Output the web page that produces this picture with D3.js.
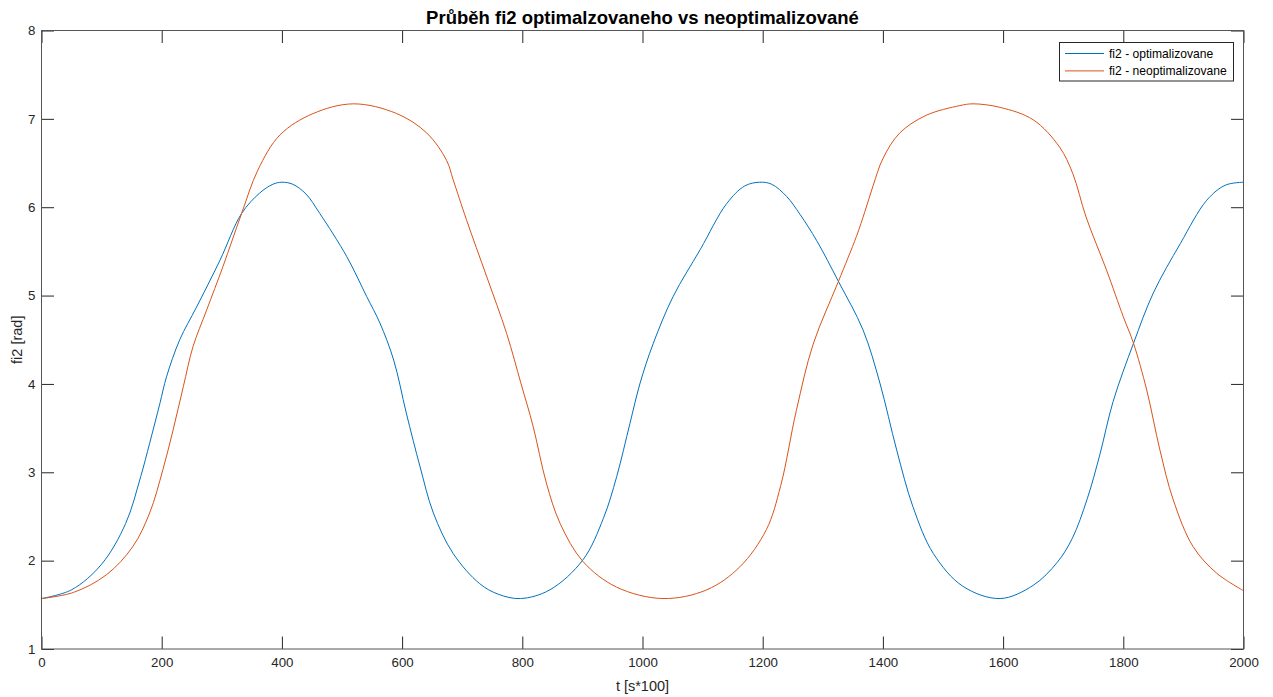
<!DOCTYPE html>
<html>
<head>
<meta charset="utf-8">
<script src="https://cdn.jsdelivr.net/npm/d3@7"></script>
<style>
  html, body { margin: 0; padding: 0; background: #fff; }
  svg { display: block; }
  text { font-family: "Liberation Sans", Arial, Helvetica, sans-serif; }
</style>
</head>
<body>
<svg id="chart" width="1273" height="697"></svg>
<script>
// fi2 trajectory, optimised controller (time in s*100, angle in rad)
const tOpt = [0, 50, 100, 140, 165, 180, 197, 208, 230, 258, 297, 333, 363, 385, 400,
  418, 440, 463, 508, 541, 563, 586, 607, 630, 652, 685, 729, 760, 797,
  846, 901, 935, 957, 979, 996, 1018, 1051, 1096, 1140, 1170, 1195,
  1215, 1240, 1262, 1290, 1326, 1367, 1395, 1423, 1450, 1484, 1533, 1595,
  1650, 1690, 1715, 1740, 1761, 1783, 1817, 1850, 1895, 1939, 1970, 2000];
const fiOpt = [1.571, 1.67, 1.96, 2.42, 2.95, 3.33, 3.78, 4.08, 4.50, 4.87, 5.40, 5.93, 6.16, 6.26, 6.283,
  6.26, 6.15, 5.93, 5.44, 4.99, 4.69, 4.27, 3.67, 3.06, 2.54, 2.08, 1.74, 1.62, 1.571,
  1.67, 2.01, 2.48, 2.95, 3.55, 4.01, 4.46, 4.99, 5.52, 6.04, 6.24, 6.283,
  6.26, 6.12, 5.92, 5.62, 5.16, 4.61, 4.01, 3.25, 2.61, 2.08, 1.71, 1.571,
  1.72, 1.98, 2.25, 2.70, 3.20, 3.80, 4.46, 5.03, 5.59, 6.08, 6.25, 6.283];

// fi2 trajectory, non-optimised controller
const tNeo = [0, 53, 108, 152, 180, 202, 219, 236, 252, 275, 302, 333, 360, 397, 452, 519,
  591, 641, 674, 685, 707, 741, 774, 798, 818, 840, 863, 901, 957, 1034,
  1107, 1162, 1206, 1230, 1256, 1284, 1326, 1356, 1370, 1384, 1400, 1428, 1472, 1528, 1550,
  1595, 1650, 1694, 1716, 1738, 1772, 1800, 1817, 1839, 1861, 1883, 1916, 1955, 2000];
const fiNeo = [1.571, 1.64, 1.84, 2.16, 2.54, 3.03, 3.48, 3.97, 4.42, 4.84, 5.33, 5.93, 6.42, 6.82, 7.06, 7.17,
  7.06, 6.84, 6.53, 6.31, 5.86, 5.21, 4.57, 4.00, 3.52, 2.88, 2.42, 1.99, 1.70, 1.571,
  1.67, 1.93, 2.35, 2.85, 3.70, 4.45, 5.16, 5.67, 5.95, 6.25, 6.55, 6.84, 7.04, 7.15, 7.17,
  7.13, 6.99, 6.68, 6.38, 5.89, 5.29, 4.76, 4.46, 3.93, 3.25, 2.69, 2.16, 1.86, 1.66];

const xTicks = [0, 200, 400, 600, 800, 1000, 1200, 1400, 1600, 1800, 2000];
const yTicks = [1, 2, 3, 4, 5, 6, 7, 8];

const seriesNames = ["fi2 - optimalizovane", "fi2 - neoptimalizovane"];
const seriesColors = ["#0072BD", "#D95319"];

const titleText = "Průběh fi2 optimalzovaneho vs neoptimalizované";
const xLabel = "t [s*100]";
const yLabel = "fi2 [rad]";

const series = [
  tOpt.map((t, i) => ({ t, v: fiOpt[i] })),
  tNeo.map((t, i) => ({ t, v: fiNeo[i] }))
];

const svg = d3.select("#chart");
const m = { left: 41.5, top: 30.5, right: 29.5, bottom: 48 };
const W = 1273, H = 697;
const pw = W - m.left - m.right, ph = H - m.top - m.bottom;

const x = d3.scaleLinear().domain([0, 2000]).range([0, pw]);
const y = d3.scaleLinear().domain([1, 8]).range([ph, 0]);

const g = svg.append("g").attr("transform", `translate(${m.left},${m.top})`);

// plot background
g.append("rect").attr("width", pw).attr("height", ph).attr("fill", "#fff");

// curves
const line = d3.line().x(d => x(d.t)).y(d => y(d.v)).curve(d3.curveCatmullRom.alpha(0.5));
g.append("defs").append("clipPath").attr("id", "clip")
  .append("rect").attr("width", pw).attr("height", ph);
series.forEach((s, i) => {
  g.append("path").datum(s)
    .attr("clip-path", "url(#clip)")
    .attr("fill", "none")
    .attr("stroke", seriesColors[i])
    .attr("stroke-width", 1)
    .attr("d", line);
});

// axes with inward ticks on all four sides
const tickLen = 12.5;
const axColor = "#262626";
const styleAxis = (sel, labels) => {
  sel.select(".domain").remove();
  sel.selectAll(".tick line").attr("stroke", axColor).attr("stroke-width", 1);
  if (labels) {
    sel.selectAll(".tick text").attr("fill", axColor)
      .style("font-size", "13.3px");
  } else {
    sel.selectAll(".tick text").remove();
  }
};

g.append("g").attr("transform", `translate(0,${ph})`)
  .call(d3.axisBottom(x).tickValues(xTicks).tickSizeInner(-tickLen).tickSizeOuter(0).tickPadding(9).tickFormat(d3.format("d")))
  .call(s => styleAxis(s, true));
g.append("g")
  .call(d3.axisTop(x).tickValues(xTicks).tickSizeInner(-tickLen).tickSizeOuter(0))
  .call(s => styleAxis(s, false));
g.append("g")
  .call(d3.axisLeft(y).tickValues(yTicks).tickSizeInner(-tickLen).tickSizeOuter(0).tickPadding(6).tickFormat(d3.format("d")))
  .call(s => styleAxis(s, true));
g.append("g").attr("transform", `translate(${pw},0)`)
  .call(d3.axisRight(y).tickValues(yTicks).tickSizeInner(-tickLen).tickSizeOuter(0))
  .call(s => styleAxis(s, false));

// axes box
g.append("rect").attr("width", pw).attr("height", ph)
  .attr("fill", "none").attr("stroke", "#555").attr("stroke-width", 1);

// title and axis labels
svg.append("text")
  .attr("x", m.left + pw / 2).attr("y", 24)
  .attr("text-anchor", "middle")
  .attr("fill", "#000")
  .style("font-size", "18.5px").style("font-weight", "bold")
  .text(titleText);

svg.append("text")
  .attr("x", m.left + pw / 2).attr("y", 691)
  .attr("text-anchor", "middle")
  .attr("fill", axColor)
  .style("font-size", "14.5px")
  .text(xLabel);

svg.append("text")
  .attr("transform", `translate(22,${m.top + ph / 2}) rotate(-90)`)
  .attr("text-anchor", "middle")
  .attr("fill", axColor)
  .style("font-size", "14.5px")
  .text(yLabel);

// legend
const lg = svg.append("g").attr("transform", "translate(1059.5,42.5)");
lg.append("rect").attr("width", 174).attr("height", 38.5)
  .attr("fill", "#fff").attr("stroke", axColor).attr("stroke-width", 1);
seriesNames.forEach((name, i) => {
  const cy = 11 + i * 17.4;
  lg.append("line").attr("x1", 5.5).attr("x2", 44.5).attr("y1", cy).attr("y2", cy)
    .attr("stroke", seriesColors[i]).attr("stroke-width", 1);
  lg.append("text").attr("x", 49.5).attr("y", cy).attr("dy", "0.35em")
    .attr("fill", "#000").style("font-size", "12.1px").text(name);
});
</script>
</body>
</html>
